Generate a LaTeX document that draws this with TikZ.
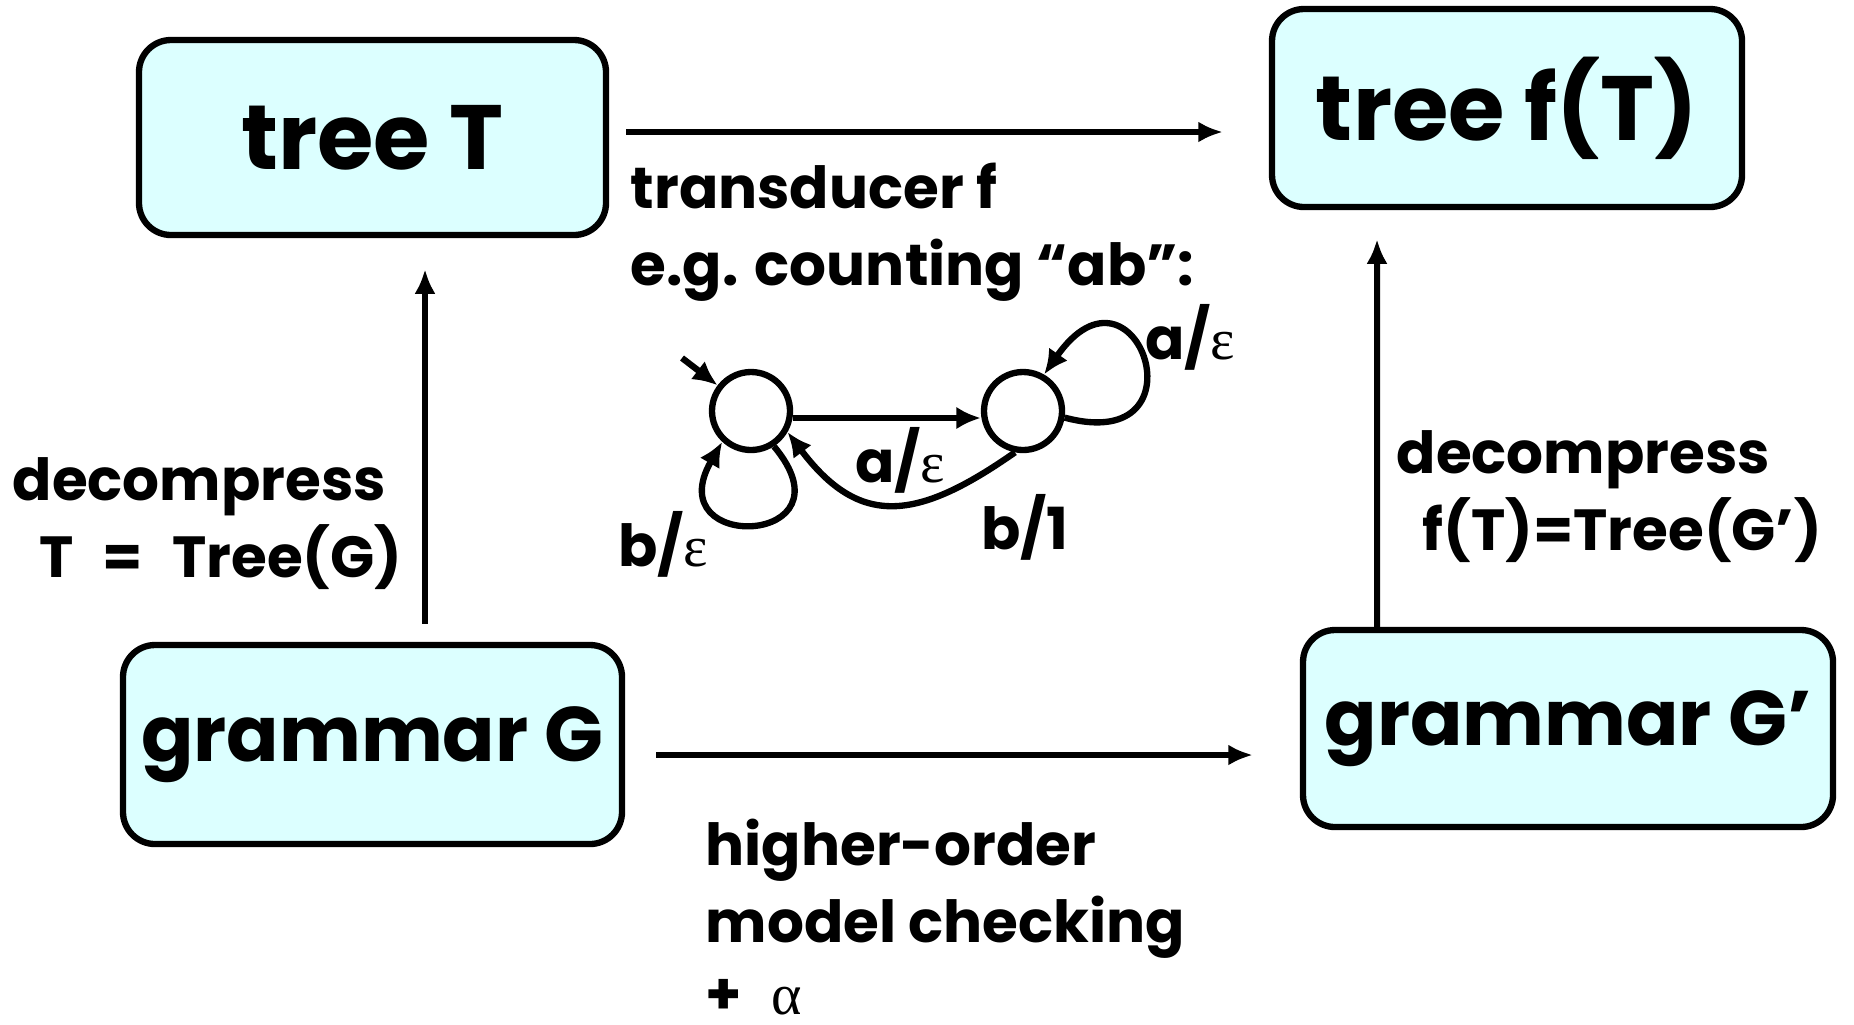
\documentclass[tikz,border=0pt]{standalone}
\usepackage{fontspec}
\setmainfont{Poppins}
\newfontfamily\grk{Liberation Serif}
\usepackage{tikz}
\usetikzlibrary{arrows.meta}
\definecolor{kastfill}{HTML}{DCFFFF}
\newcommand{\eps}{{\grk\mdseries ε}}
\tikzset{
  kasten/.style={draw=black,fill=kastfill,line width=1.8pt,rounded corners=0.32cm,
    font=\fontsize{26}{30}\selectfont\bfseries},
  kastenk/.style={kasten,font=\fontsize{22}{26}\selectfont\bfseries},
  pfeil/.style={-{Latex[length=7pt,width=6pt]},line width=1.7pt},
  zustand/.style={circle,draw,line width=1.8pt,minimum size=0.78cm,inner sep=0pt},
  uebg/.style={-{Latex[length=7pt,width=6.5pt]},line width=1.8pt},
  beschr/.style={inner sep=0pt,font=\fontsize{16.5}{22}\selectfont\bfseries,align=left},
}

\begin{document}
\begin{tikzpicture}
  \useasboundingbox (0,0) rectangle (18.54,-10.24);
  % the four boxes
  \node[kasten,minimum width=4.67cm,minimum height=1.95cm] (treeT) at (3.725,-1.375) {tree T};
  \node[kasten,minimum width=4.70cm,minimum height=1.98cm] (treeFT) at (15.07,-1.08) {tree f(T)};
  \node[kastenk,minimum width=4.99cm,minimum height=1.99cm] (gramG) at (3.725,-7.445) {grammar G};
  \node[kastenk,minimum width=5.30cm,minimum height=1.97cm] (gramGp) at (15.68,-7.285) {grammar G’};
  % arrows between them
  \draw[pfeil] ([shift={(0.17,0.055)}]treeT.east) -- ([shift={(-0.46,-0.24)}]treeFT.west);
  \draw[pfeil] ([shift={(0.31,-0.105)}]gramG.east) -- ([shift={(-0.47,-0.265)}]gramGp.west);
  \draw[pfeil] ([shift={(0.525,0.18)}]gramG.north) -- ([shift={(0.525,-0.31)}]treeT.south);
  \draw[pfeil] ([shift={(-1.91,0)}]gramGp.north) -- ([shift={(-1.30,-0.29)}]treeFT.south);
  % labels
  \node[beschr,anchor=north west] (transd) at (6.30,-1.62) {transducer f\\e.g. counting “ab”:};
  \node[beschr,anchor=north west] (decl) at (0.12,-4.57)
    {decompress\\\hspace{0.27cm}T\hspace{0.5em}=\hspace{0.5em}Tree(G)};
  \node[beschr,anchor=north west] (decr) at (13.96,-4.30)
    {decompress\\\hspace{0.26cm}f(T)=Tree(G’)};
  \node[beschr,anchor=north west] (homc) at (7.05,-8.18)
    {higher-order\\model checking\\[-1.5pt]+\hspace{0.5em}{\grk\mdseries α}};
  % small transducer
  \node[zustand] (q0) at (7.51,-4.11) {};
  \node[zustand] (q1) at (10.23,-4.11) {};
  \coordinate (init) at (6.82,-3.58);
  \draw[uebg] (init) -- (q0);
  \draw[uebg] ([yshift=-0.07cm]q0.east) -- ([yshift=-0.07cm]q1.west);
  \draw[uebg] (q1.259) .. controls +(215:1.2) and +(-53:1.2) .. (q0.-30);
  \draw[uebg] (q0.-57) .. controls +(-50:1.3) and +(240:1.3) .. (q0.-133);
  \draw[uebg] (q1.-9) .. controls +(-15:1.5) and +(55:1.6) .. (q1.60);
  \node[beschr] (la) at (9.00,-4.60) {a/\eps};
  \node[beschr] (lb) at (10.25,-5.27) {b/1};
  \node[beschr] (lc) at (6.63,-5.44) {b/\eps};
  \node[beschr] (ld) at (11.90,-3.37) {a/\eps};
\end{tikzpicture}
\end{document}
